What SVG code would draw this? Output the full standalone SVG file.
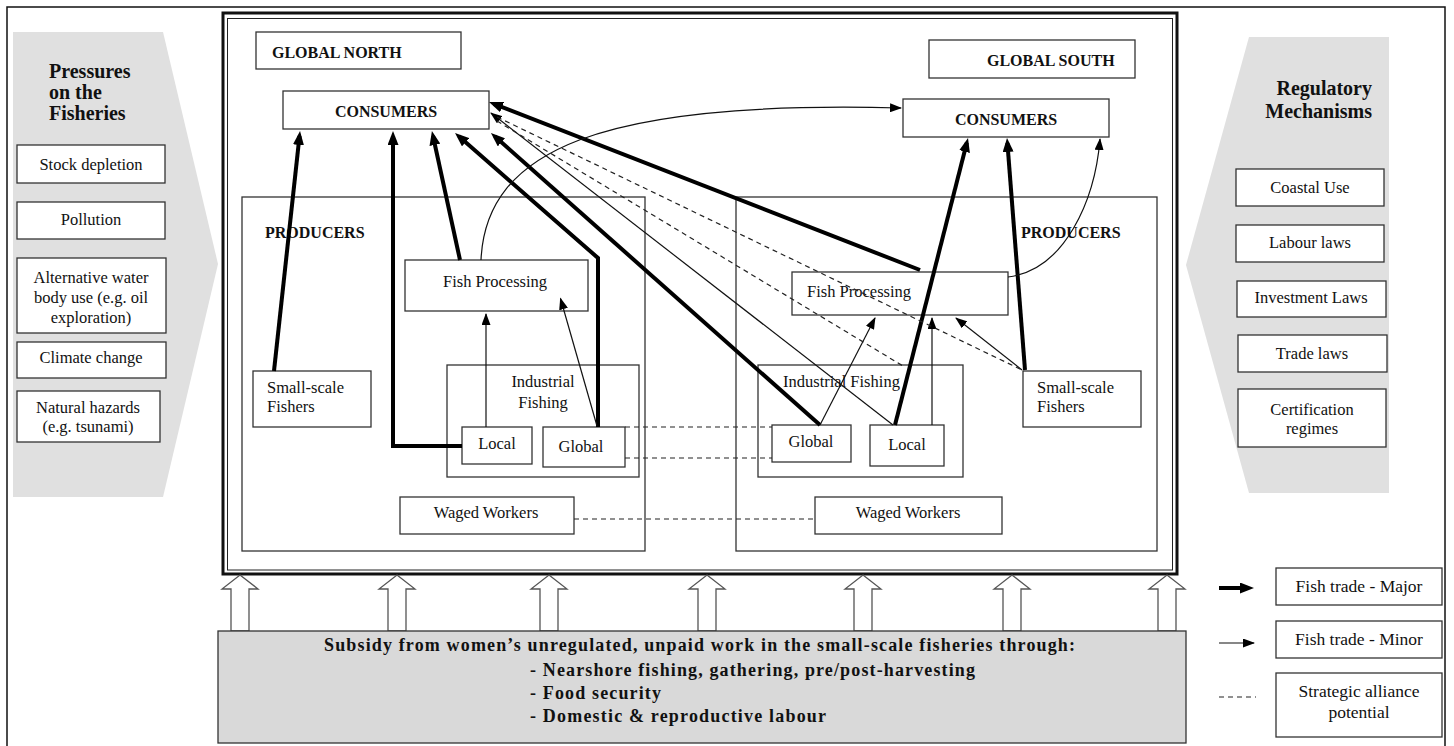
<svg xmlns="http://www.w3.org/2000/svg" width="1454" height="746" viewBox="0 0 1454 746">
<style>
.bx{fill:#fff;stroke:#333;stroke-width:1.3}
.pn{fill:#e0e0e0;stroke:none}
.t{font-family:"Liberation Serif",serif;font-size:16.5px;fill:#111}
.c{text-anchor:middle}
.h{font-family:"Liberation Serif",serif;font-size:16px;font-weight:bold;fill:#111}
.ttl{font-family:"Liberation Serif",serif;font-size:20px;font-weight:bold;fill:#111}
.lg{font-family:"Liberation Serif",serif;font-size:17.5px;fill:#111;text-anchor:middle}
.bt{font-family:"Liberation Serif",serif;font-size:18px;font-weight:bold;fill:#111}
.thick{fill:none;stroke:#000;stroke-width:4;marker-end:url(#ahb)}
.thin{fill:none;stroke:#111;stroke-width:1.2;marker-end:url(#ahs)}
.dash{fill:none;stroke:#222;stroke-width:1.2;stroke-dasharray:5 4}
.hol{fill:#fff;stroke:#555;stroke-width:1.3}
</style>
<defs>
<marker id="ahb" viewBox="0 0 14 11" refX="9" refY="5.5" markerWidth="14" markerHeight="11" markerUnits="userSpaceOnUse" orient="auto"><path d="M0,0 L14,5.5 L0,11 z" fill="#000"/></marker>
<marker id="ahs" viewBox="0 0 12 9" refX="11" refY="4.5" markerWidth="12" markerHeight="9" markerUnits="userSpaceOnUse" orient="auto"><path d="M0,0 L12,4.5 L0,9 z" fill="#000"/></marker>
</defs>
<rect x="0" y="0" width="1454" height="746" fill="#fff"/>
<rect x="7" y="7" width="1438" height="746" fill="none" stroke="#111" stroke-width="1.5"/>

<g id="pressures-panel">
<polygon class="pn" points="13,32 163,32 218,264 163,497 13,497"/>
<text class="ttl" x="49" y="78">Pressures</text>
<text class="ttl" x="49" y="99">on the</text>
<text class="ttl" x="49" y="120">Fisheries</text>
</g>
<g id="p-stock"><rect class="bx" x="17" y="145" width="148" height="38"/><text class="t c" x="91" y="170">Stock depletion</text></g>
<g id="p-pollution"><rect class="bx" x="17" y="202" width="148" height="37"/><text class="t c" x="91" y="225">Pollution</text></g>
<g id="p-alt"><rect class="bx" x="17" y="258" width="149" height="75"/><text class="t c" x="91" y="283">Alternative water</text><text class="t c" x="91" y="303">body use (e.g. oil</text><text class="t c" x="91" y="323">exploration)</text></g>
<g id="p-climate"><rect class="bx" x="17" y="342" width="149" height="36"/><text class="t c" x="91" y="363">Climate change</text></g>
<g id="p-hazards"><rect class="bx" x="17" y="391" width="143" height="51"/><text class="t c" x="88" y="413">Natural hazards</text><text class="t c" x="88" y="432">(e.g. tsunami)</text></g>

<g id="regulatory-panel">
<polygon class="pn" points="1249,37 1389,37 1389,493 1249,493 1186,265"/>
<text class="ttl" x="1372" y="95" text-anchor="end">Regulatory</text>
<text class="ttl" x="1372" y="118" text-anchor="end">Mechanisms</text>
</g>
<g id="r-coastal"><rect class="bx" x="1236" y="169" width="148" height="37"/><text class="t c" x="1310" y="193">Coastal Use</text></g>
<g id="r-labour"><rect class="bx" x="1236" y="225" width="148" height="37"/><text class="t c" x="1310" y="248">Labour laws</text></g>
<g id="r-invest"><rect class="bx" x="1237" y="281" width="149" height="36"/><text class="t c" x="1311" y="303">Investment Laws</text></g>
<g id="r-trade"><rect class="bx" x="1238" y="335" width="149" height="37"/><text class="t c" x="1312" y="359">Trade laws</text></g>
<g id="r-cert"><rect class="bx" x="1238" y="389" width="148" height="58"/><text class="t c" x="1312" y="415">Certification</text><text class="t c" x="1312" y="434">regimes</text></g>

<g id="main-frame">
<rect x="223" y="13" width="954" height="561" fill="#fff" stroke="#111" stroke-width="3"/>
<rect x="227.5" y="18.5" width="945" height="551.5" fill="none" stroke="#222" stroke-width="1"/>
</g>

<g id="global-north"><rect class="bx" x="256" y="32" width="205" height="37"/><text class="h" x="272" y="58">GLOBAL NORTH</text></g>
<g id="global-south"><rect class="bx" x="929" y="40" width="206" height="38"/><text class="h" x="987" y="66">GLOBAL SOUTH</text></g>
<g id="consumers-north"><rect class="bx" x="283" y="91" width="206" height="38"/><text class="h c" x="386" y="117">CONSUMERS</text></g>
<g id="consumers-south"><rect class="bx" x="903" y="99" width="206" height="38"/><text class="h c" x="1006" y="125">CONSUMERS</text></g>

<g id="producers-north"><rect class="bx" x="242" y="197" width="403" height="354"/><text class="h" x="265" y="238">PRODUCERS</text></g>
<g id="producers-south"><rect class="bx" x="736" y="197" width="421" height="354"/><text class="h" x="1021" y="238">PRODUCERS</text></g>

<g id="fishproc-north"><rect class="bx" x="405" y="260" width="183" height="51"/><text class="t" x="443" y="287">Fish Processing</text></g>
<g id="fishproc-south"><rect class="bx" x="792" y="272" width="216" height="43"/><text class="t" x="807" y="297">Fish Processing</text></g>
<g id="ssf-north"><rect class="bx" x="253" y="371" width="118" height="56"/><text class="t" x="267" y="393">Small-scale</text><text class="t" x="267" y="412">Fishers</text></g>
<g id="ssf-south"><rect class="bx" x="1023" y="371" width="118" height="56"/><text class="t" x="1037" y="393">Small-scale</text><text class="t" x="1037" y="412">Fishers</text></g>
<g id="indfish-north"><rect class="bx" x="447" y="365" width="192" height="112"/><text class="t c" x="543" y="387">Industrial</text><text class="t c" x="543" y="408">Fishing</text></g>
<g id="indfish-south"><rect class="bx" x="758" y="365" width="205" height="112"/><text class="t" x="783" y="387">Industrial Fishing</text></g>
<g id="local-north"><rect class="bx" x="462" y="427" width="70" height="37"/><text class="t c" x="497" y="449">Local</text></g>
<g id="global-fleet-north"><rect class="bx" x="543" y="427" width="82" height="40"/><text class="t c" x="581" y="452">Global</text></g>
<g id="global-fleet-south"><rect class="bx" x="772" y="425" width="79" height="37"/><text class="t c" x="811" y="447">Global</text></g>
<g id="local-south"><rect class="bx" x="870" y="425" width="74" height="41"/><text class="t c" x="907" y="450">Local</text></g>
<g id="waged-north"><rect class="bx" x="400" y="497" width="174" height="37"/><text class="t c" x="486" y="518">Waged Workers</text></g>
<g id="waged-south"><rect class="bx" x="815" y="497" width="187" height="37"/><text class="t c" x="908" y="518">Waged Workers</text></g>

<g id="connectors">
<polyline class="thick" points="274,371 299.5,136"/>
<polyline class="thick" points="462,446 393,446 393,136"/>
<polyline class="thick" points="460,260 433,136"/>
<polyline class="thick" points="598,427 598,258 458.8,136.3"/>
<polyline class="thick" points="820,425 494.7,136.3"/>
<polyline class="thick" points="920,270 493.7,103.8"/>
<polyline class="thick" points="895,425 966.8,142.8"/>
<polyline class="thick" points="1025,370 1007.4,143"/>
<line class="thin" x1="486" y1="427" x2="486" y2="314"/>
<line class="thin" x1="597" y1="426" x2="560.5" y2="298.5"/>
<path class="thin" d="M481,260 C486,150 600,100 901,108"/>
<line class="thin" x1="893" y1="425" x2="491" y2="113"/>
<line class="thin" x1="820" y1="425" x2="875" y2="318"/>
<line class="thin" x1="932" y1="425" x2="932" y2="318"/>
<line class="thin" x1="1022" y1="370" x2="956" y2="318"/>
<path class="thin" d="M1008,277 C1065,270 1095,200 1100,139"/>
<line class="dash" x1="497" y1="117" x2="1022" y2="370"/>
<line class="dash" x1="497" y1="121" x2="903" y2="366"/>
<line class="dash" x1="625" y1="427" x2="772" y2="427"/>
<line class="dash" x1="625" y1="458" x2="772" y2="458"/>
<line class="dash" x1="574" y1="519" x2="815" y2="519"/>
</g>

<g id="subsidy-arrows">
<path class="hol" d="M240,575 L258,589 L249,589 L249,631 L231,631 L231,589 L222,589 Z"/>
<path class="hol" d="M397,575 L415,589 L406,589 L406,631 L388,631 L388,589 L379,589 Z"/>
<path class="hol" d="M549,575 L567,589 L558,589 L558,631 L540,631 L540,589 L531,589 Z"/>
<path class="hol" d="M707,575 L725,589 L716,589 L716,631 L698,631 L698,589 L689,589 Z"/>
<path class="hol" d="M863,575 L881,589 L872,589 L872,631 L854,631 L854,589 L845,589 Z"/>
<path class="hol" d="M1012,575 L1030,589 L1021,589 L1021,631 L1003,631 L1003,589 L994,589 Z"/>
<path class="hol" d="M1167,575 L1185,589 L1176,589 L1176,631 L1158,631 L1158,589 L1149,589 Z"/>
</g>

<g id="subsidy">
<rect x="218" y="631" width="968" height="112" fill="#d9d9d9" stroke="#333" stroke-width="1.3"/>
<text class="bt" x="324" y="651" textLength="751">Subsidy from women’s unregulated, unpaid work in the small-scale fisheries through:</text>
<text class="bt" x="530" y="676" textLength="445">- Nearshore fishing, gathering, pre/post-harvesting</text>
<text class="bt" x="530" y="699" textLength="131">- Food security</text>
<text class="bt" x="530" y="722" textLength="296">- Domestic &amp; reproductive labour</text>
</g>

<g id="legend">
<line class="thick" x1="1219" y1="588" x2="1249" y2="588"/>
<line class="thin" x1="1219" y1="643" x2="1254" y2="643"/>
<line class="dash" x1="1219" y1="697" x2="1256" y2="697"/>
<g id="legend-major"><rect class="bx" x="1276" y="568" width="166" height="37"/><text class="lg" x="1359" y="592">Fish trade - Major</text></g>
<g id="legend-minor"><rect class="bx" x="1276" y="621" width="166" height="37"/><text class="lg" x="1359" y="645">Fish trade - Minor</text></g>
<g id="legend-alliance"><rect class="bx" x="1276" y="673" width="166" height="64"/><text class="lg" x="1359" y="697">Strategic alliance</text><text class="lg" x="1359" y="718">potential</text></g>
</g>
</svg>
